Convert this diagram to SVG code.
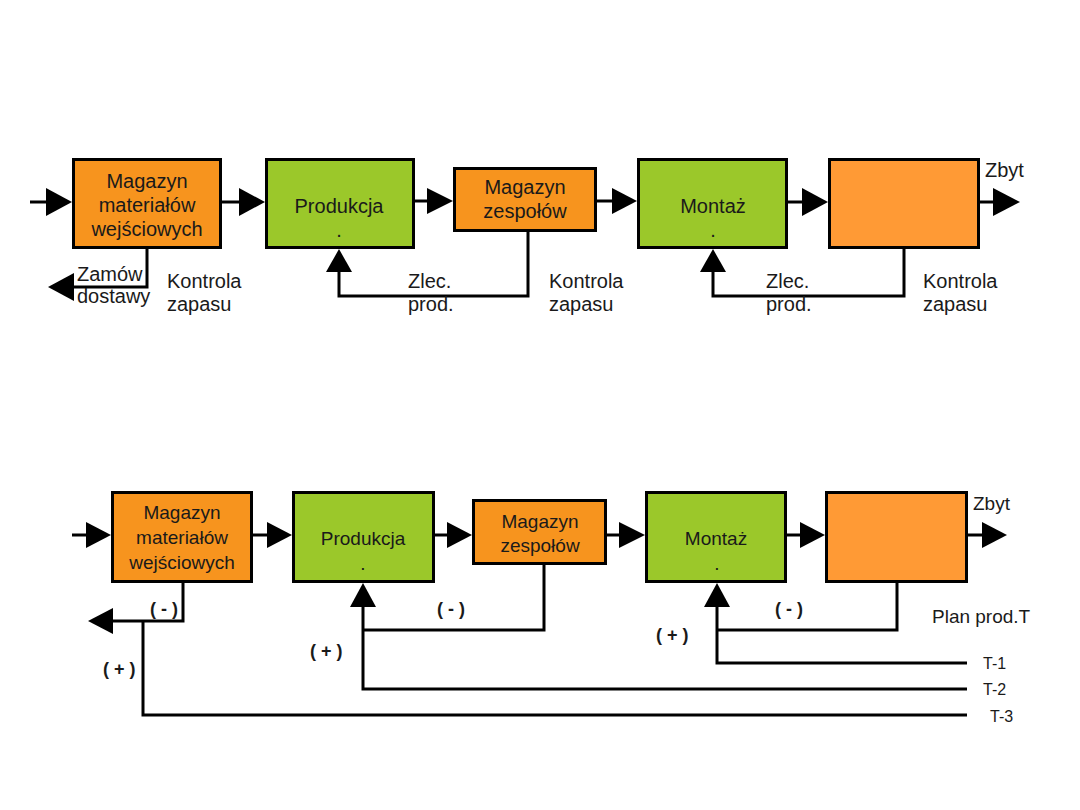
<svg xmlns="http://www.w3.org/2000/svg" width="1080" height="810" viewBox="0 0 1080 810">
<style>
.box{stroke:#000;stroke-width:3}
.or{fill:#F7941E}
.or2{fill:#FF9A35}
.gr{fill:#9BC82A}
.t{font-family:"Liberation Sans",Arial,sans-serif;font-size:20px;fill:#1a1a1a}
.tb{font-family:"Liberation Sans",Arial,sans-serif;font-size:19px;fill:#1a1a1a}
.c{text-anchor:middle}
.s{font-family:"Liberation Sans",Arial,sans-serif;font-size:18px;font-weight:bold;fill:#1a1a1a}
.tt{font-family:"Liberation Sans",Arial,sans-serif;font-size:16px;fill:#1a1a1a}
.ln{fill:none;stroke:#000;stroke-width:3}
.ah{fill:#000}
</style>
<rect width="1080" height="810" fill="#fff"/>
<g id="connectors">
<!-- top row flow -->
<line class="ln" x1="30" y1="202" x2="48" y2="202"/>
<polygon class="ah" points="46,188 72,202 46,216"/>
<line class="ln" x1="222" y1="202" x2="240" y2="202"/>
<polygon class="ah" points="239,188 265,202 239,216"/>
<line class="ln" x1="415" y1="201" x2="429" y2="201"/>
<polygon class="ah" points="427,188 453,201 427,214"/>
<line class="ln" x1="597" y1="201" x2="613" y2="201"/>
<polygon class="ah" points="612,188 637,201 612,214"/>
<line class="ln" x1="788" y1="202" x2="803" y2="202"/>
<polygon class="ah" points="802,188 828,202 802,216"/>
<line class="ln" x1="980" y1="202" x2="994" y2="202"/>
<polygon class="ah" points="993,188 1020,202 993,216"/>
<!-- top feedback -->
<polyline class="ln" points="147,249 147,287 72,287"/>
<polygon class="ah" points="74,273 48,287 74,301"/>
<polyline class="ln" points="528,232 528,296 339,296 339,270"/>
<polygon class="ah" points="326,272 339,249 352,272"/>
<polyline class="ln" points="904,249 904,296 713,296 713,270"/>
<polygon class="ah" points="700,272 713,249 726,272"/>
<!-- bottom row flow -->
<line class="ln" x1="72" y1="535" x2="88" y2="535"/>
<polygon class="ah" points="86,522 111,535 86,548"/>
<line class="ln" x1="253" y1="535" x2="268" y2="535"/>
<polygon class="ah" points="267,522 292,535 267,548"/>
<line class="ln" x1="435" y1="535" x2="449" y2="535"/>
<polygon class="ah" points="447,522 472,535 447,548"/>
<line class="ln" x1="607" y1="535" x2="620" y2="535"/>
<polygon class="ah" points="619,522 645,535 619,548"/>
<line class="ln" x1="787" y1="535" x2="801" y2="535"/>
<polygon class="ah" points="800,522 825,535 800,548"/>
<line class="ln" x1="968" y1="535" x2="983" y2="535"/>
<polygon class="ah" points="982,522 1007,535 982,548"/>
<!-- bottom feedback -->
<polyline class="ln" points="183,583 183,621 111,621"/>
<polygon class="ah" points="113,608 88,621 113,634"/>
<polyline class="ln" points="143,621 143,715 967,715"/>
<polyline class="ln" points="544,565 544,630 363,630"/>
<polyline class="ln" points="363,605 363,689 967,689"/>
<polygon class="ah" points="350,607 363,583 376,607"/>
<polyline class="ln" points="897,583 897,630 717,630"/>
<polyline class="ln" points="717,605 717,663 967,663"/>
<polygon class="ah" points="704,607 717,583 730,607"/>
</g>
<g id="top-mag-mat">
<rect class="box or" x="73.5" y="159.5" width="147" height="88"/>
<text class="t c" x="147" y="188">Magazyn</text>
<text class="t c" x="147" y="212">materiałów</text>
<text class="t c" x="147" y="236">wejściowych</text>
</g>
<g id="top-produkcja">
<rect class="box gr" x="266.5" y="159.5" width="147" height="88"/>
<text class="t c" x="339" y="213">Produkcja</text>
<text class="t c" x="339" y="237">.</text>
</g>
<g id="top-mag-zesp">
<rect class="box or" x="454.5" y="168.5" width="141" height="62"/>
<text class="t c" x="525" y="194">Magazyn</text>
<text class="t c" x="525" y="218">zespołów</text>
</g>
<g id="top-montaz">
<rect class="box gr" x="638.5" y="159.5" width="148" height="88"/>
<text class="t c" x="713" y="213">Montaż</text>
<text class="t c" x="713" y="237">.</text>
</g>
<g id="top-box5">
<rect class="box or2" x="829.5" y="159.5" width="149" height="88"/>
</g>
<g id="top-labels">
<text class="t" x="985" y="177">Zbyt</text>
<text class="t" x="77" y="281">Zamów</text>
<text class="t" x="77" y="303">dostawy</text>
<text class="t" x="167" y="288">Kontrola</text>
<text class="t" x="167" y="311">zapasu</text>
<text class="t" x="408" y="288">Zlec.</text>
<text class="t" x="408" y="311">prod.</text>
<text class="t" x="549" y="288">Kontrola</text>
<text class="t" x="549" y="311">zapasu</text>
<text class="t" x="766" y="288">Zlec.</text>
<text class="t" x="766" y="311">prod.</text>
<text class="t" x="923" y="288">Kontrola</text>
<text class="t" x="923" y="311">zapasu</text>
</g>
<g id="bot-mag-mat">
<rect class="box or" x="112.5" y="492.5" width="139" height="89"/>
<text class="tb c" x="182" y="519">Magazyn</text>
<text class="tb c" x="182" y="544">materiałów</text>
<text class="tb c" x="182" y="569">wejściowych</text>
</g>
<g id="bot-produkcja">
<rect class="box gr" x="293.5" y="492.5" width="140" height="89"/>
<text class="tb c" x="363" y="545">Produkcja</text>
<text class="tb c" x="363" y="570">.</text>
</g>
<g id="bot-mag-zesp">
<rect class="box or" x="473.5" y="500.5" width="132" height="63"/>
<text class="tb c" x="540" y="528">Magazyn</text>
<text class="tb c" x="540" y="552">zespołów</text>
</g>
<g id="bot-montaz">
<rect class="box gr" x="646.5" y="492.5" width="139" height="89"/>
<text class="tb c" x="716" y="545">Montaż</text>
<text class="tb c" x="717" y="570">.</text>
</g>
<g id="bot-box5">
<rect class="box or2" x="826.5" y="492.5" width="140" height="89"/>
</g>
<g id="bot-labels">
<text class="tb" x="973" y="510">Zbyt</text>
<text class="s" x="150" y="615">( - )</text>
<text class="s" x="103" y="675">( + )</text>
<text class="s" x="437" y="615">( - )</text>
<text class="s" x="310" y="657">( + )</text>
<text class="s" x="775" y="615">( - )</text>
<text class="s" x="656" y="641">( + )</text>
<text class="tb" x="932" y="623">Plan prod.T</text>
<text class="tt" x="983" y="669">T-1</text>
<text class="tt" x="983" y="695">T-2</text>
<text class="tt" x="990" y="722">T-3</text>
</g>
</svg>
